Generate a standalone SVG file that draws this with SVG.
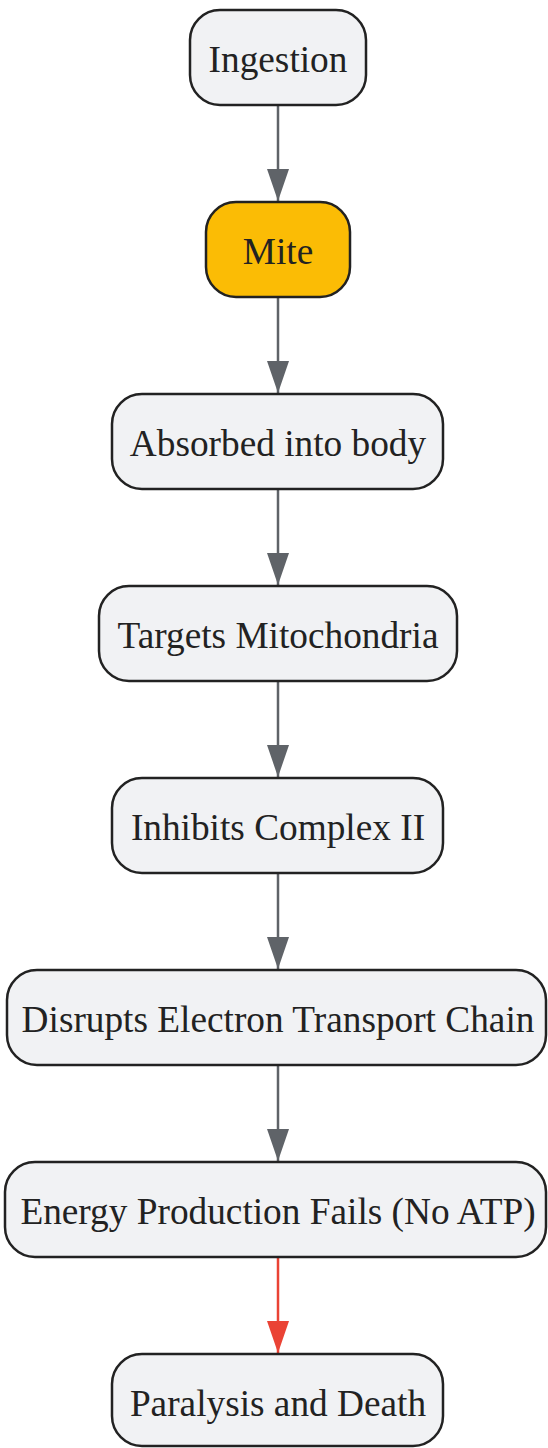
<svg xmlns="http://www.w3.org/2000/svg" width="548" height="1448" viewBox="0 0 548 1448">
<style>
.n rect{fill:#f1f2f4;stroke:#222;stroke-width:2.5}
.n.hl rect{fill:#fbbc05}
.n text{font-family:"Liberation Serif","Times New Roman",serif;font-size:37.3px;fill:#222;text-anchor:middle}
.e{stroke:#5f6368;stroke-width:2.5;fill:none}
.e.red{stroke:#ea4335}
</style>
<defs>
<marker id="ag" viewBox="0 0 32 22" refX="32" refY="11" markerUnits="userSpaceOnUse" markerWidth="32" markerHeight="22" orient="auto"><path d="M0,0 L32,11 L0,22 Z" fill="#5f6368"/></marker>
<marker id="ar" viewBox="0 0 32 22" refX="32" refY="11" markerUnits="userSpaceOnUse" markerWidth="32" markerHeight="22" orient="auto"><path d="M0,0 L32,11 L0,22 Z" fill="#ea4335"/></marker>
</defs>
<g id="edges">
<path class="e" d="M278,105 L278,201" marker-end="url(#ag)"/>
<path class="e" d="M278,297 L278,393" marker-end="url(#ag)"/>
<path class="e" d="M278,489 L278,585" marker-end="url(#ag)"/>
<path class="e" d="M278,681 L278,777" marker-end="url(#ag)"/>
<path class="e" d="M278,873 L278,969" marker-end="url(#ag)"/>
<path class="e" d="M278,1065 L278,1161" marker-end="url(#ag)"/>
<path class="e red" d="M278,1257 L278,1353" marker-end="url(#ar)"/>
</g>
<g id="ingestion" class="n"><rect x="190" y="10" width="176" height="95" rx="30"/><text x="278" y="71.5">Ingestion</text></g>
<g id="mite" class="n hl"><rect x="206" y="202" width="144" height="95" rx="30"/><text x="278" y="263.5">Mite</text></g>
<g id="absorbed" class="n"><rect x="112" y="394" width="331" height="95" rx="30"/><text x="278" y="455.5">Absorbed into body</text></g>
<g id="targets" class="n"><rect x="99" y="586" width="358" height="95" rx="30"/><text x="278" y="647.5">Targets Mitochondria</text></g>
<g id="inhibits" class="n"><rect x="112" y="778" width="331" height="95" rx="30"/><text x="278" y="839.5">Inhibits Complex II</text></g>
<g id="disrupts" class="n"><rect x="7" y="970" width="539" height="95" rx="30"/><text x="278" y="1031.5">Disrupts Electron Transport Chain</text></g>
<g id="energy" class="n"><rect x="5" y="1162" width="541" height="95" rx="30"/><text x="278" y="1223.5">Energy Production Fails (No ATP)</text></g>
<g id="paralysis" class="n"><rect x="112" y="1354" width="331" height="92" rx="30"/><text x="278" y="1415.5">Paralysis and Death</text></g>
</svg>
